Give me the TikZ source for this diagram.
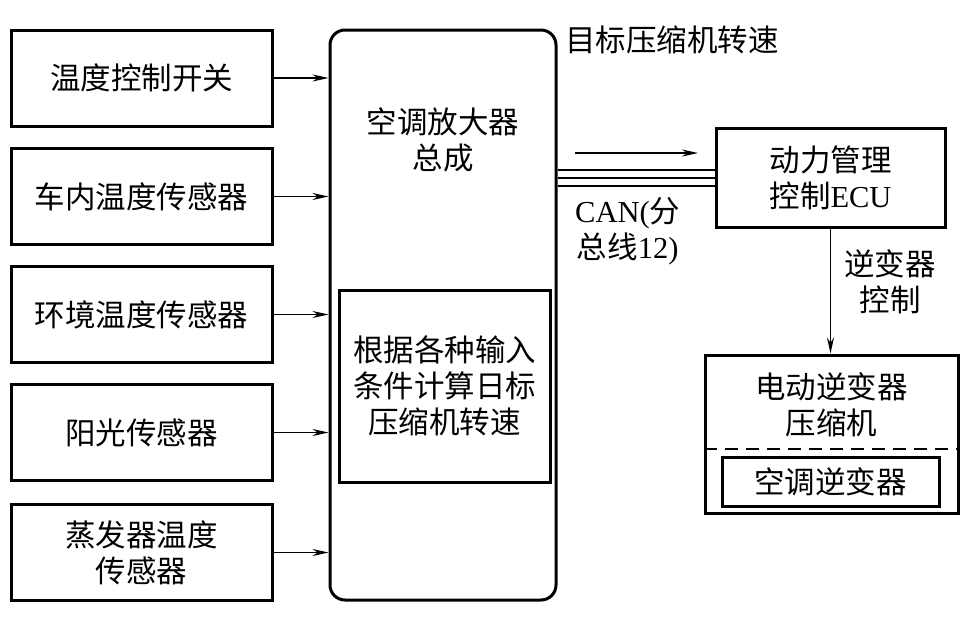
\documentclass[tikz,border=0pt]{standalone}
\usepackage{fontspec}
\setmainfont{Noto Sans CJK SC}
\newfontfamily\lat{Liberation Serif}
\usetikzlibrary{arrows.meta}

\tikzset{
  txt/.style={align=center, inner sep=0pt, font=\fontsize{30.5}{36}\selectfont},
  inbox/.style={txt, draw, line width=3pt, minimum width=261pt, minimum height=96pt},
  frame/.style={draw, line width=3pt, inner sep=0pt},
  sig/.style={-{Stealth[length=16pt,width=7pt]}, line width=1.6pt},
}

\begin{document}
\begin{tikzpicture}[x=1pt, y=-1pt]
            \useasboundingbox (0,0) rectangle (975,637);
            % main amplifier block
            \node[frame, rounded corners=15pt, minimum width=226pt, minimum height=570pt] (amp) at (443,315) {};
            \node[txt] (ampname) at (443,140) {空调放大器\\总成};
            \node[frame, txt, minimum width=211pt, minimum height=192pt] (calc) at (444.5,386) {根据各种输入\\条件计算日标\\压缩机转速};
            \node[txt, anchor=west] (target) at (565,40) {目标压缩机转速};
            % inputs
            \node[inbox] (t1) at (141.5,78) {温度控制开关};
            \node[inbox] (t2) at (141.5,196.5) {车内温度传感器};
            \node[inbox] (t3) at (141.5,314.5) {环境温度传感器};
            \node[inbox] (t4) at (141.5,432.5) {阳光传感器};
            \node[inbox] (t5) at (141.5,552.5) {蒸发器温度\\传感器};
            \foreach \n in {t1,t2,t3,t4,t5}
                \draw[sig] (\n.east) -- (\n.east -| amp.west);
            % hybrid ECU and CAN bus
            \node[inbox, minimum width=229pt, minimum height=99pt] (ecu) at (830.5,177.5) {动力管理\\控制{\lat ECU}};
            \foreach \s in {-8,0,8}
                \draw[line width=2pt] ([yshift=\s pt]amp.east |- ecu.west) -- ([yshift=\s pt]ecu.west);
            \coordinate (cana) at (575,153);
            \coordinate (canb) at (698,153);
            \draw[sig] (cana) -- (canb);
            \node[txt, anchor=north west] (can) at (575,197) {{\lat CAN(}分\\总线{\lat 12)}};
            % inverter compressor
            \node[frame, minimum width=253pt, minimum height=158pt] (inv) at (831.5,434) {};
            \node[txt] (invname) at (831.5,405) {电动逆变器\\压缩机};
            \draw[dashed, dash pattern=on 13pt off 8pt, line width=1.5pt] (inv.west |- 0,449) -- (inv.east |- 0,449);
            \node[frame, txt, minimum width=217pt, minimum height=49pt] (acinv) at (830.5,481.5) {空调逆变器};
            \draw[sig] (ecu.south) -- (ecu.south |- inv.north);
            \node[txt] (ctrl) at (890,282) {逆变器\\控制};
        \end{tikzpicture}
\end{document}
